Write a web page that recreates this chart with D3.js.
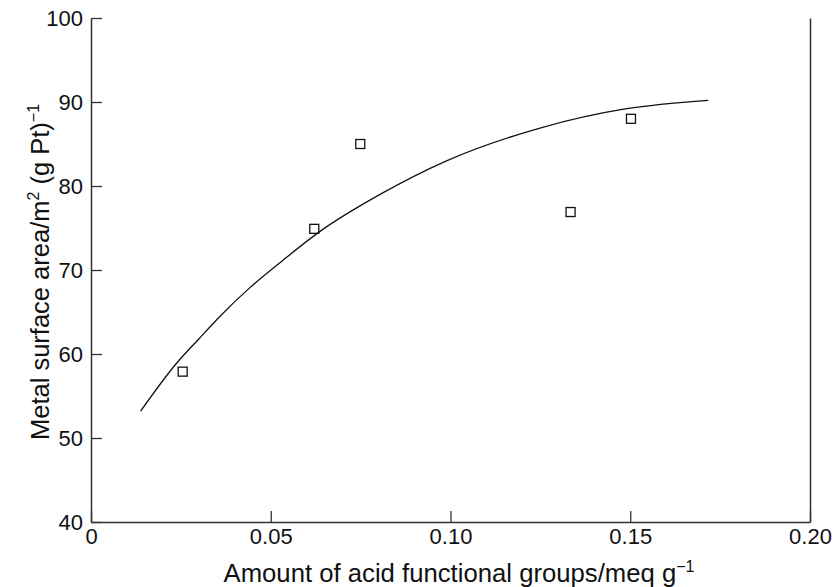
<!DOCTYPE html>
<html>
<head>
<meta charset="utf-8">
<script src="https://cdn.jsdelivr.net/npm/d3@7/dist/d3.min.js"></script>
<style>
  html, body { margin: 0; padding: 0; background: #fff; }
  svg { display: block; }
  text { font-family: "Liberation Sans", Arial, Helvetica, sans-serif; fill: #111; }
</style>
</head>
<body>
<svg id="chart" width="839" height="587"></svg>
<script>
// Measured samples: acid group content (meq/g) vs Pt metal surface area (m²/g Pt)
const acidGroups   = [0.0255, 0.0621, 0.0749, 0.1334, 0.1502];
const surfaceArea  = [57.9, 74.9, 85.0, 76.9, 88.0];

// Trend line drawn through the plot
const curveX = [0.0138, 0.0238, 0.0298, 0.0359, 0.0442, 0.0535, 0.0637, 0.0804, 0.0989, 0.1249, 0.149, 0.1717];
const curveY = [53.2, 58.9, 61.7, 64.5, 67.9, 71.2, 74.6, 79.0, 83.0, 86.9, 89.2, 90.2];

// Axis ticks
const xTicks = [0, 0.05, 0.10, 0.15, 0.20];
const xTickLabels = ["0", "0.05", "0.10", "0.15", "0.20"];
const yTicks = [40, 50, 60, 70, 80, 90, 100];

const svg = d3.select("#chart");
const plotLeft = 91, plotRight = 810, plotTop = 18, plotBottom = 522;

const x = d3.scaleLinear().domain([0, 0.20]).range([plotLeft, plotRight]);
const y = d3.scaleLinear().domain([40, 100]).range([plotBottom, plotTop]);

const axisColor = "#333";

// Left axis with inward ticks
const gy = svg.append("g")
  .attr("transform", `translate(${plotLeft},0)`)
  .call(d3.axisLeft(y).tickValues(yTicks).tickFormat(d3.format("d"))
    .tickSizeInner(-11).tickSizeOuter(0).tickPadding(8));
gy.select(".domain").attr("stroke", axisColor).attr("stroke-width", 1.5);
gy.selectAll(".tick line").attr("stroke", axisColor).attr("stroke-width", 1.3);
gy.selectAll(".tick text").attr("font-size", 22).attr("fill", "#111")
  .style("font-family", "'Liberation Sans', Arial, sans-serif");

// Bottom axis with inward ticks
const gx = svg.append("g")
  .attr("transform", `translate(0,${plotBottom})`)
  .call(d3.axisBottom(x).tickValues(xTicks).tickFormat((d, i) => xTickLabels[i])
    .tickSizeInner(-11).tickSizeOuter(0).tickPadding(6));
gx.select(".domain").attr("stroke", axisColor).attr("stroke-width", 1.5);
gx.selectAll(".tick line").attr("stroke", axisColor).attr("stroke-width", 1.3);
gx.selectAll(".tick text").attr("font-size", 22).attr("fill", "#111")
  .style("font-family", "'Liberation Sans', Arial, sans-serif");

// Right frame edge (no ticks, no top edge)
const gr = svg.append("g")
  .attr("transform", `translate(${plotRight},0)`)
  .call(d3.axisRight(y).tickValues([]).tickSizeOuter(0));
gr.select(".domain").attr("stroke", axisColor).attr("stroke-width", 1.5);

// Trend curve
const curvePts = curveX.map((v, i) => [v, curveY[i]]);
svg.append("path")
  .datum(curvePts)
  .attr("fill", "none")
  .attr("stroke", "#111")
  .attr("stroke-width", 1.3)
  .attr("d", d3.line().x(d => x(d[0])).y(d => y(d[1])).curve(d3.curveMonotoneX));

// Open square markers
const sq = 9;
svg.append("g").selectAll("rect")
  .data(acidGroups.map((v, i) => [v, surfaceArea[i]]))
  .join("rect")
  .attr("x", d => x(d[0]) - sq / 2)
  .attr("y", d => y(d[1]) - sq / 2)
  .attr("width", sq).attr("height", sq)
  .attr("fill", "none")
  .attr("stroke", "#111")
  .attr("stroke-width", 1.3);

// Axis titles
const xt = svg.append("text")
  .attr("x", 459).attr("y", 582)
  .attr("text-anchor", "middle")
  .attr("font-size", 25.7);
xt.append("tspan").text("Amount of acid functional groups/meq g");
xt.append("tspan").attr("dy", -10).attr("font-size", 16).text("−1");

const yt = svg.append("text")
  .attr("transform", `translate(49,${(plotTop + plotBottom) / 2 + 2}) rotate(-90)`)
  .attr("text-anchor", "middle")
  .attr("font-size", 25.5);
yt.append("tspan").text("Metal surface area/m");
yt.append("tspan").attr("dy", -10).attr("font-size", 16).text("2");
yt.append("tspan").attr("dy", 10).text(" (g Pt)");
yt.append("tspan").attr("dy", -10).attr("font-size", 16).text("−1");
</script>
</body>
</html>
